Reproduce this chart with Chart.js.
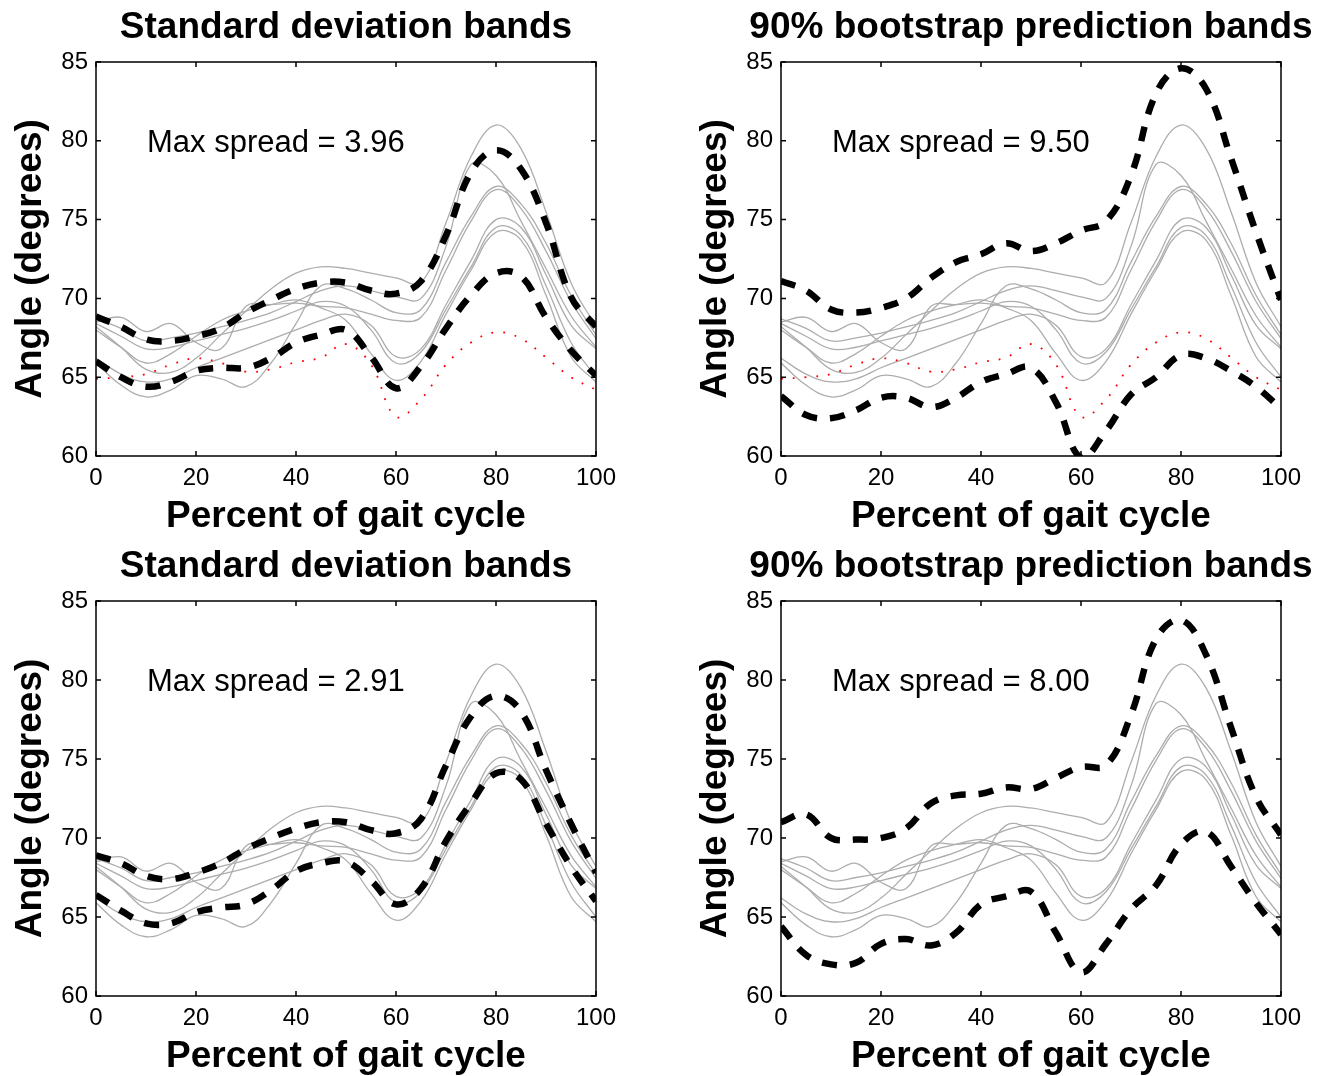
<!DOCTYPE html>
<html>
<head>
<meta charset="utf-8">
<script src="https://cdn.jsdelivr.net/npm/chart.js@4.4.1/dist/chart.umd.min.js"></script>
<style>
  html, body { margin: 0; padding: 0; background: #ffffff; }
  body { width: 1328px; height: 1076px; position: relative; overflow: hidden; }
  canvas { position: absolute; }
</style>
</head>
<body>
<canvas id="p1" width="664" height="538" style="left:0;top:0"></canvas>
<canvas id="p2" width="664" height="538" style="left:664px;top:0"></canvas>
<canvas id="p3" width="664" height="538" style="left:0;top:538px"></canvas>
<canvas id="p4" width="664" height="538" style="left:664px;top:538px"></canvas>
<script>
// percent of gait cycle (x values shared by every curve)
const percentGait = [0, 5, 10, 15, 20, 25, 30, 35, 40, 45, 50, 55, 60, 65, 70, 75, 80, 85, 90, 95, 100];

// individual trials (grey)
const trialA = [68.2, 66.9, 65.5, 65.3, 66.2, 67.7, 69.2, 70.6, 71.6, 72.0, 71.9, 71.6, 71.3, 71.0, 74.8, 79.0, 81.0, 79.5, 75.5, 71.0, 68.2];
const trialB = [68.7, 68.1, 67.3, 67.5, 67.8, 68.2, 68.6, 69.1, 69.8, 70.5, 70.8, 70.5, 70.1, 70.0, 73.3, 78.5, 77.8, 74.9, 71.9, 68.9, 66.9];
const trialC = [65.9, 64.5, 63.75, 64.2, 65.1, 64.9, 64.4, 65.9, 68.4, 70.8, 70.6, 69.9, 69.1, 69.3, 72.3, 75.2, 77.1, 76.0, 73.5, 70.2, 67.7];
const trialD = [68.5, 68.8, 67.9, 68.4, 67.2, 66.8, 69.5, 69.6, 69.7, 69.5, 69.4, 69.0, 68.6, 68.8, 71.8, 74.9, 76.9, 75.7, 73.0, 69.8, 67.45];
const trialE = [66.2, 65.2, 64.7, 64.9, 65.6, 66.2, 66.8, 67.4, 68.0, 68.6, 69.0, 68.3, 66.3, 66.8, 69.6, 72.4, 75.0, 74.5, 71.5, 68.3, 66.8];
const trialF = [68.4, 67.6, 66.8, 66.9, 67.3, 67.7, 68.1, 68.6, 69.2, 69.8, 69.5, 68.0, 65.9, 66.6, 69.3, 72.0, 74.5, 74.0, 70.8, 67.2, 65.0];
const trialG = [68.0, 66.9, 65.9, 66.5, 67.6, 68.6, 69.2, 69.6, 69.9, 69.4, 68.6, 66.5, 64.8, 66.0, 69.0, 71.8, 74.2, 73.7, 70.2, 66.3, 64.7];

// outlying trial (red dotted, top row only)
const outlierTrial = [64.9, 65.0, 65.2, 65.8, 66.2, 65.9, 65.35, 65.5, 65.95, 66.25, 67.1, 65.8, 62.5, 63.6, 65.8, 67.2, 67.85, 67.45, 66.25, 65.0, 64.2];

// bands with the outlier included (top row)
const sdUpperTop = [68.85, 68.2, 67.4, 67.3, 67.6, 68.1, 69.1, 69.9, 70.6, 71.0, 71.0, 70.5, 70.3, 71.1, 74.0, 78.0, 79.4, 78.2, 74.8, 70.1, 68.2];
const sdLowerTop = [66.0, 65.0, 64.4, 64.7, 65.4, 65.6, 65.6, 66.2, 67.2, 67.7, 68.0, 66.3, 64.3, 65.7, 68.1, 70.2, 71.6, 71.4, 68.8, 66.7, 65.1];
const bootUpperTop = [71.1, 70.5, 69.3, 69.1, 69.4, 70.0, 71.3, 72.3, 72.8, 73.5, 73.0, 73.5, 74.3, 74.9, 77.8, 83.0, 84.6, 83.3, 78.9, 74.2, 69.9];
const bootLowerTop = [63.8, 62.6, 62.4, 62.9, 63.7, 63.7, 63.1, 63.7, 64.7, 65.2, 65.6, 63.4, 59.9, 61.6, 63.9, 65.0, 66.4, 66.2, 65.4, 64.4, 63.0];

// bands without the outlier (bottom row)
const sdUpperBottom = [68.9, 68.4, 67.6, 67.4, 67.8, 68.4, 69.3, 70.0, 70.6, 71.0, 71.0, 70.5, 70.3, 71.2, 74.6, 77.7, 79.0, 78.0, 74.3, 70.9, 67.8];
const sdLowerBottom = [66.4, 65.4, 64.6, 64.6, 65.3, 65.6, 65.8, 66.7, 67.9, 68.4, 68.5, 67.3, 65.8, 66.8, 69.8, 72.2, 74.1, 73.7, 70.9, 68.2, 66.0];
const bootUpperBottom = [71.0, 71.5, 70.0, 69.9, 70.0, 70.6, 72.2, 72.7, 72.8, 73.2, 73.1, 73.8, 74.5, 74.6, 77.8, 82.6, 83.8, 81.6, 77.0, 72.6, 70.2];
const bootLowerBottom = [64.4, 62.6, 62.0, 62.1, 63.3, 63.6, 63.2, 64.0, 65.8, 66.3, 66.6, 64.0, 61.5, 63.3, 65.5, 67.0, 69.6, 70.4, 68.2, 65.9, 63.9];

const panelTitles = ['Standard deviation bands', '90% bootstrap prediction bands', 'Standard deviation bands', '90% bootstrap prediction bands'];
const spreadNotes = ['Max spread = 3.96', 'Max spread = 9.50', 'Max spread = 2.91', 'Max spread = 8.00'];
const xLabel = 'Percent of gait cycle';
const yLabel = 'Angle (degrees)';

const FONT = '"Liberation Sans", Arial, Helvetica, sans-serif';
Chart.defaults.font.family = FONT;
Chart.defaults.color = '#000';

const trials = [trialA, trialB, trialC, trialD, trialE, trialF, trialG];

function toPoints(values) {
    return percentGait.map((x, i) => ({ x: x, y: values[i] }));
}

// draws the full box, inward ticks and all the labels
const matlabFrame = {
    id: 'matlabFrame',
    afterDraw(chart, args, opts) {
        const ctx = chart.ctx;
        const a = chart.chartArea;
        const xs = chart.scales.x;
        const ys = chart.scales.y;
        ctx.save();
        ctx.strokeStyle = '#000';
        ctx.lineWidth = 1.5;
        ctx.strokeRect(a.left, a.top, a.right - a.left, a.bottom - a.top);

        ctx.beginPath();
        xs.ticks.forEach(t => {
            const px = xs.getPixelForValue(t.value);
            ctx.moveTo(px, a.bottom); ctx.lineTo(px, a.bottom - 5);
            ctx.moveTo(px, a.top); ctx.lineTo(px, a.top + 5);
        });
        ys.ticks.forEach(t => {
            const py = ys.getPixelForValue(t.value);
            ctx.moveTo(a.left, py); ctx.lineTo(a.left + 5, py);
            ctx.moveTo(a.right, py); ctx.lineTo(a.right - 5, py);
        });
        ctx.stroke();

        const cx = (a.left + a.right) / 2;
        ctx.fillStyle = '#000';
        ctx.font = 'bold 37px ' + FONT;
        ctx.textAlign = 'center';
        ctx.textBaseline = 'alphabetic';
        ctx.fillText(opts.title, cx, a.top - 24);
        ctx.fillText(xLabel, cx, a.bottom + 71);

        ctx.save();
        ctx.translate(a.left - 55, (a.top + a.bottom) / 2);
        ctx.rotate(-Math.PI / 2);
        ctx.fillText(yLabel, 0, 0);
        ctx.restore();

        ctx.font = '31px ' + FONT;
        ctx.textAlign = 'left';
        ctx.fillText(opts.note, xs.getPixelForValue(10.2), ys.getPixelForValue(80) + 11);
        ctx.restore();
    }
};

function makePanel(id, box, title, note, upper, lower, withOutlier) {
    const datasets = trials.map(t => ({
        data: toPoints(t),
        borderColor: '#adadad',
        borderWidth: 1.3,
        order: 3
    }));
    if (withOutlier) {
        datasets.push({
            data: toPoints(outlierTrial),
            borderColor: '#ff0000',
            borderWidth: 1.8,
            borderDash: [1.8, 10],
            order: 2
        });
    }
    [upper, lower].forEach(b => datasets.push({
        data: toPoints(b),
        borderColor: '#000',
        borderWidth: 6.5,
        borderDash: [15, 13],
        borderCapStyle: 'butt',
        order: 1
    }));

    new Chart(document.getElementById(id), {
        type: 'line',
        data: { datasets: datasets },
        options: {
            responsive: false,
            animation: false,
            events: [],
            elements: { point: { radius: 0 }, line: { tension: 0.4, fill: false } },
            datasets: { line: { clip: 0 } },
            layout: {
                padding: {
                    left: box.left - 90,
                    top: box.top,
                    right: 664 - box.right,
                    bottom: 538 - box.bottom - 80
                }
            },
            plugins: {
                legend: { display: false },
                tooltip: { enabled: false },
                matlabFrame: { title: title, note: note }
            },
            scales: {
                x: {
                    type: 'linear',
                    min: 0,
                    max: 100,
                    grid: { display: false, drawTicks: false },
                    border: { display: false },
                    ticks: { stepSize: 20, padding: 8, maxRotation: 0, font: { size: 24 }, color: '#000' },
                    afterFit: s => { s.height = 80; }
                },
                y: {
                    type: 'linear',
                    min: 60,
                    max: 85,
                    grid: { display: false, drawTicks: false },
                    border: { display: false },
                    ticks: { stepSize: 5, padding: 8, font: { size: 24 }, color: '#000' },
                    afterFit: s => { s.width = 90; }
                }
            }
        },
        plugins: [matlabFrame]
    });
}

makePanel('p1', { left: 96, top: 62, right: 596, bottom: 456 }, panelTitles[0], spreadNotes[0], sdUpperTop, sdLowerTop, true);
makePanel('p2', { left: 117, top: 62, right: 617, bottom: 456 }, panelTitles[1], spreadNotes[1], bootUpperTop, bootLowerTop, true);
makePanel('p3', { left: 96, top: 63, right: 596, bottom: 458 }, panelTitles[2], spreadNotes[2], sdUpperBottom, sdLowerBottom, false);
makePanel('p4', { left: 117, top: 63, right: 617, bottom: 458 }, panelTitles[3], spreadNotes[3], bootUpperBottom, bootLowerBottom, false);
</script>
</body>
</html>
